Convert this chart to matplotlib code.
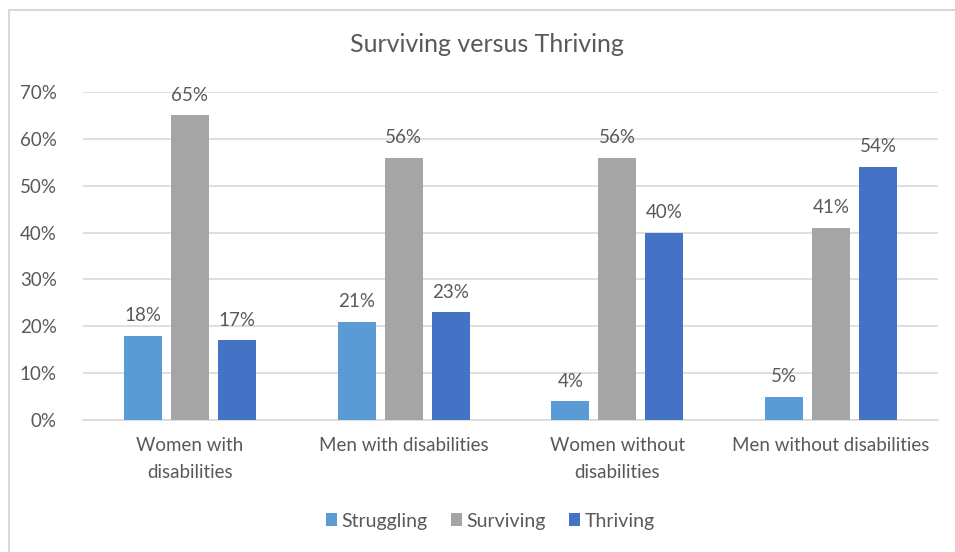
import numpy as np
import matplotlib
matplotlib.use("Agg")
import matplotlib.pyplot as plt
from matplotlib.lines import Line2D

plt.rcParams['font.family'] = ['Lato', 'DejaVu Sans']

categories = ["Women with\ndisabilities", "Men with disabilities",
              "Women without\ndisabilities", "Men without disabilities"]
series = ["Struggling", "Surviving", "Thriving"]
struggling = [18, 21, 4, 5]
surviving = [65, 56, 56, 41]
thriving = [17, 23, 40, 54]
colors = ["#5B9BD5", "#A5A5A5", "#4472C4"]
text_color = "#595959"

W, H = 955, 552
fig = plt.figure(figsize=(W / 100, H / 100), dpi=100)
ax = fig.add_axes([83 / W, 1 - 420 / H, 855 / W, (420 - 92) / H])

x = np.arange(len(categories))
width = 0.177
step = 0.22
for i, (name, vals) in enumerate(zip(series, [struggling, surviving, thriving])):
    pos = x + (i - 1) * step
    bars = ax.bar(pos, vals, width, color=colors[i], label=name, zorder=3)
    for b, v in zip(bars, vals):
        ax.text(b.get_x() + b.get_width() / 2, v + 2.5, f"{v}%",
                ha='center', va='bottom', fontsize=13.5, color=text_color)

ax.set_xlim(-0.5, len(categories) - 0.5)
ax.set_ylim(0, 70)
ax.set_yticks(range(0, 71, 10))
ax.set_yticklabels([f"{t}%" for t in range(0, 71, 10)])
ax.set_xticks(x)
ax.set_xticklabels(categories, linespacing=1.75)
ax.tick_params(axis='both', length=0, labelsize=13.5, colors=text_color)
ax.tick_params(axis='y', pad=19)
ax.tick_params(axis='x', pad=12)
ax.grid(axis='y', color="#D9D9D9", linewidth=1.2, zorder=0)
for s in ['top', 'right', 'left']:
    ax.spines[s].set_visible(False)
ax.spines['bottom'].set_color("#D9D9D9")
ax.spines['bottom'].set_linewidth(1.2)

fig.text(487 / W, 1 - 45 / H, "Surviving versus Thriving", ha='center', va='center',
         fontsize=18, color=text_color)

leg = fig.legend(loc='center', bbox_to_anchor=(490 / W, 1 - 521 / H), ncol=3,
                 frameon=False, fontsize=14, handlelength=0.6, handleheight=0.6,
                 handletextpad=0.2, columnspacing=1.2, labelcolor=text_color)

# chart area border (top and left visible)
fig.add_artist(Line2D([9 / W, 1], [1 - 10 / H, 1 - 10 / H], color="#D9D9D9", linewidth=1.5,
                      transform=fig.transFigure))
fig.add_artist(Line2D([9 / W, 9 / W], [0, 1 - 10 / H], color="#D9D9D9", linewidth=1.5,
                      transform=fig.transFigure))

fig.savefig("out.png", dpi=100)
